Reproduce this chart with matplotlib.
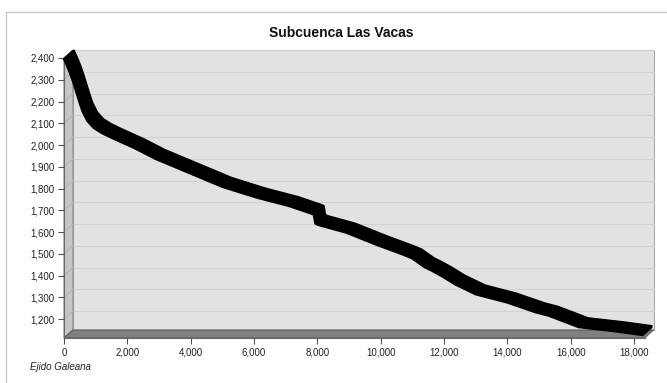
import numpy as np
import matplotlib
matplotlib.use("Agg")
import matplotlib.pyplot as plt
from matplotlib.patches import Polygon
from matplotlib.lines import Line2D
from matplotlib.transforms import IdentityTransform, offset_copy
from matplotlib.ticker import FuncFormatter

# perfil de elevacion (distancia en m, elevacion en m)
distancia = [0, 100, 200, 300, 400, 500, 600, 750, 950, 1200, 1500, 1800,
             2200, 2900, 3900, 5000, 5700, 6100, 7100, 7750, 7900, 7950,
             8050, 8900, 9900, 10700, 11000, 11200, 11400, 11600, 11950,
             12350, 13000, 14000, 14900, 15300, 15950, 16250, 17400, 18300]
elevacion = [2400, 2368, 2333, 2292, 2245, 2198, 2155, 2112, 2080, 2057,
             2036, 2016, 1990, 1938, 1877, 1810, 1778, 1760, 1722, 1690,
             1682, 1640, 1634, 1600, 1542, 1499, 1481, 1460, 1440, 1426,
             1398, 1362, 1316, 1278, 1233, 1218, 1182, 1165, 1146, 1128]

yticks = list(range(1200, 2401, 100))
xticks = list(range(0, 18001, 2000))

titulo = "Subcuenca Las Vacas"
pie = "Ejido Galeana"

plt.rcParams['font.family'] = ['Liberation Sans', 'DejaVu Sans']

W, H = 667, 383
fig = plt.figure(figsize=(W / 100, H / 100), dpi=100)
fig.patch.set_facecolor("white")


def caja(x0, y0, x1, y1):
    return [x0 / W, 1 - y1 / H, (x1 - x0) / W, (y1 - y0) / H]


ax = fig.add_axes(caja(64, 58, 644.5, 338))
ax.set_xlim(0, 18330)
ax.set_ylim(1113, 2400)
ax.patch.set_visible(False)

DX, DY = 9, 8  # profundidad del efecto 3D en pixeles

fig.canvas.draw()
fl = ax.transAxes.transform((0, 0))
ftl = ax.transAxes.transform((0, 1))
fr = ax.transAxes.transform((1, 0))
ftr = ax.transAxes.transform((1, 1))
d = np.array([DX, DY])

ident = IdentityTransform()
# pared del fondo
ax.add_patch(Polygon([fl + d, fr + d, ftr + d, ftl + d], closed=True,
                     facecolor="#e2e2e2", edgecolor="#a8a8a8", lw=0.8,
                     transform=ident, clip_on=False, zorder=0))
# pared izquierda
ax.add_patch(Polygon([fl, ftl, ftl + d, fl + d], closed=True,
                     facecolor="#c6c6c6", edgecolor="#8a8a8a", lw=0.8,
                     transform=ident, clip_on=False, zorder=0.5))
# piso
ax.add_patch(Polygon([fl, fr, fr + d, fl + d], closed=True,
                     facecolor="#808080", edgecolor="#5a5a5a", lw=0.8,
                     transform=ident, clip_on=False, zorder=0.5))

# lineas de grilla en el fondo y en la pared izquierda
atras = offset_copy(ax.transData, fig=fig, x=DX, y=DY, units='dots')
for yt in yticks:
    ax.plot([0, 18330], [yt, yt], color="#d2d2d2", lw=0.8, transform=atras,
            clip_on=False, zorder=0.3)
    p0 = ax.transData.transform((0, yt))
    ax.plot([p0[0], p0[0] + DX], [p0[1], p0[1] + DY], color="#b4b4b4",
            lw=0.7, transform=ident, clip_on=False, zorder=0.6)

# cinta del perfil
for t in np.linspace(0, 1, 14):
    tr = offset_copy(ax.transData, fig=fig, x=DX * t, y=DY * t, units='dots')
    ax.plot(distancia, elevacion, color="black", lw=2.3, transform=tr,
            clip_on=False, solid_joinstyle='round', solid_capstyle='butt',
            zorder=2)

for s in ['top', 'right']:
    ax.spines[s].set_visible(False)
for s in ['left', 'bottom']:
    ax.spines[s].set_color("#6a6a6a")
    ax.spines[s].set_linewidth(0.8)
    ax.spines[s].set_zorder(1)

ax.set_xticks(xticks)
ax.set_yticks(yticks)
fmt = FuncFormatter(lambda v, p: f"{v:,.0f}")
ax.xaxis.set_major_formatter(fmt)
ax.yaxis.set_major_formatter(fmt)
ax.tick_params(direction='out', length=4, width=0.8, color="#505050",
               labelsize=7, labelcolor="#222222", pad=3)

fig.text(341 / W, 1 - 33 / H, titulo, ha='center', va='center',
         fontsize=10, fontweight='bold', color="#111111")
fig.text(30 / W, 1 - 367 / H, pie, ha='left', va='center', fontsize=7,
         style='italic', color="#222222")

# marco exterior
fig.add_artist(Line2D([6 / W, 6 / W], [0, 1 - 11.5 / H], color="#c8c8c8",
                      lw=1, transform=fig.transFigure))
fig.add_artist(Line2D([6 / W, 1], [1 - 11.5 / H, 1 - 11.5 / H],
                      color="#c8c8c8", lw=1, transform=fig.transFigure))

fig.savefig("out.png", dpi=100)
